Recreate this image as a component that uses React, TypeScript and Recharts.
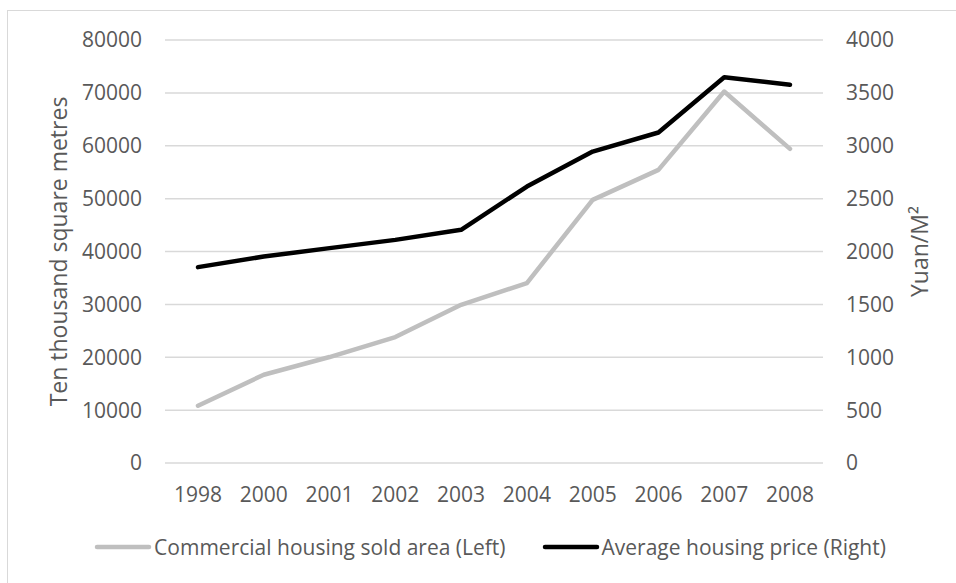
import { LineChart, Line, XAxis, YAxis, CartesianGrid } from "recharts";

const years = ["1998", "2000", "2001", "2002", "2003", "2004", "2005", "2006", "2007", "2008"];
const soldArea = [10830, 16690, 20040, 23820, 29920, 34030, 49770, 55440, 70250, 59410];
const avgPrice = [1852, 1952, 2032, 2110, 2205, 2614, 2945, 3125, 3648, 3576];
const leftTicks = [0, 10000, 20000, 30000, 40000, 50000, 60000, 70000, 80000];
const rightTicks = [0, 500, 1000, 1500, 2000, 2500, 3000, 3500, 4000];

const data = years.map((year, i) => ({
  year,
  area: soldArea[i],
  price: avgPrice[i],
}));

const FONT = "'Open Sans', sans-serif";
const TEXT = "#595959";
const GRID = "#d9d9d9";

const tickStyle = { fontSize: 21, fill: TEXT, fontFamily: FONT };

const legendItems = [
  { label: "Commercial housing sold area (Left)", color: "#bfbfbf" },
  { label: "Average housing price (Right)", color: "#000000" },
];

const ChartLegend = () => (
  <div
    style={{
      position: "absolute",
      left: 0,
      top: 532,
      width: 980,
      display: "flex",
      justifyContent: "center",
      gap: 36,
      fontFamily: FONT,
      fontSize: 21,
      color: TEXT,
      lineHeight: "30px",
    }}
  >
    {legendItems.map((it) => (
      <div key={it.label} style={{ display: "flex", alignItems: "center" }}>
        <svg width={58} height={10} style={{ marginRight: 2 }}>
          <line x1={3} y1={5} x2={55} y2={5} stroke={it.color} strokeWidth={4.5} strokeLinecap="round" />
        </svg>
        <span>{it.label}</span>
      </div>
    ))}
  </div>
);

const axisTitle = (text: string, dx: number) => ({ viewBox }: any) => {
  const cx = viewBox.x + dx;
  const cy = viewBox.y + viewBox.height / 2;
  return (
    <text
      x={cx}
      y={cy}
      transform={`rotate(-90 ${cx} ${cy})`}
      textAnchor="middle"
      dominantBaseline="central"
      fontSize={23}
      fill={TEXT}
      fontFamily={FONT}
    >
      {text}
    </text>
  );
};

export default function App() {
  return (
    <div style={{ position: "absolute", left: 0, top: 0, width: 956, height: 583, overflow: "hidden", background: "#fff" }}>
      <div
        style={{
          position: "absolute",
          left: 7,
          top: 10,
          width: 960,
          height: 600,
          border: `1.5px solid ${GRID}`,
          boxSizing: "border-box",
        }}
      />
      <div style={{ position: "absolute", left: 0, top: 0 }}>
        <LineChart width={956} height={583} data={data} margin={{ top: 40, right: 0, left: 0, bottom: 90 }}>
          <CartesianGrid vertical={false} stroke={GRID} strokeWidth={1.5} yAxisId="left" />
          <XAxis
            dataKey="year"
            height={30}
            axisLine={false}
            tickLine={false}
            tickSize={0}
            tickMargin={24}
            tick={tickStyle}
            interval={0}
            padding={{ left: 33, right: 33 }}
          />
          <YAxis
            yAxisId="left"
            domain={[0, 80000]}
            ticks={leftTicks}
            width={165}
            axisLine={false}
            tickLine={false}
            tickSize={0}
            tickMargin={23}
            tick={tickStyle}
            label={axisTitle("Ten thousand square metres", 58)}
          />
          <YAxis
            yAxisId="right"
            orientation="right"
            domain={[0, 4000]}
            ticks={rightTicks}
            width={133}
            axisLine={false}
            tickLine={false}
            tickSize={0}
            tickMargin={23}
            tick={tickStyle}
            label={axisTitle("Yuan/M²", 96)}
          />
          <Line
            yAxisId="left"
            type="linear"
            dataKey="area"
            stroke="#bfbfbf"
            strokeWidth={4.5}
            strokeLinecap="round"
            strokeLinejoin="round"
            dot={false}
            activeDot={false}
            isAnimationActive={false}
          />
          <Line
            yAxisId="right"
            type="linear"
            dataKey="price"
            stroke="#000000"
            strokeWidth={4.5}
            strokeLinecap="round"
            strokeLinejoin="round"
            dot={false}
            activeDot={false}
            isAnimationActive={false}
          />
        </LineChart>
      </div>
      <ChartLegend />
    </div>
  );
}
